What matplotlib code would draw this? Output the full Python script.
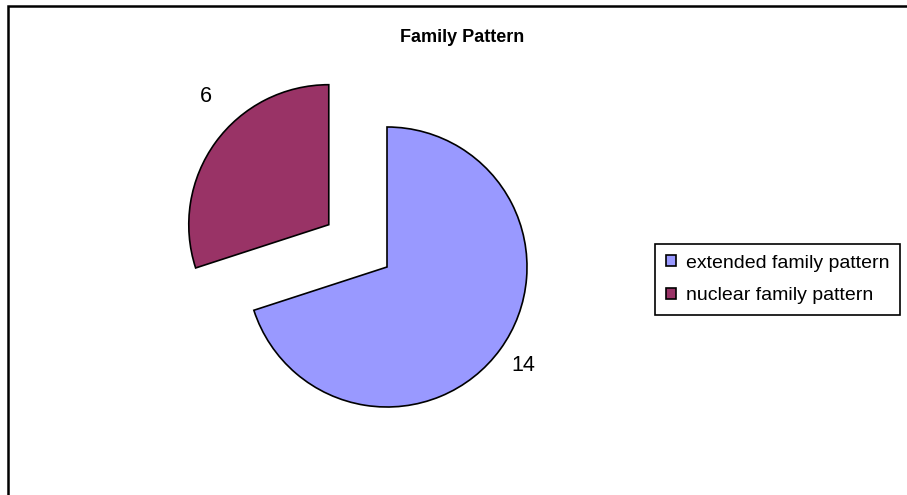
import matplotlib
matplotlib.use("Agg")
import matplotlib.pyplot as plt
from matplotlib.patches import Rectangle

labels = ["extended family pattern", "nuclear family pattern"]
counts = [14, 6]
colors = ["#9999FF", "#993366"]

plt.rcParams["font.family"] = ["Liberation Sans", "DejaVu Sans"]

fig = plt.figure(figsize=(9.07, 4.95), dpi=100)
ax = fig.add_axes([0, 0, 1, 1])

wedges, texts = ax.pie(counts, labels=[str(c) for c in counts], colors=colors,
                       startangle=90, counterclock=False, explode=[0, 0.514],
                       labeldistance=1.2,
                       wedgeprops=dict(edgecolor="black", linewidth=1.2),
                       textprops=dict(fontsize=15.5, ha="center", va="center"))
# excel puts the small label further up than the radial spot
texts[1].set_position((-1.293, 1.221))

ax.set_aspect("auto")
ax.set_xlim(-387 / 140, (907 - 387) / 140)
ax.set_ylim(-(495 - 267) / 140, 267 / 140)
ax.axis("off")

fig.text(462 / 907, 1 - 38 / 495, "Family Pattern", ha="center", va="center",
         fontsize=13, fontweight="bold")

leg = fig.legend(wedges, labels, loc="upper left", bbox_to_anchor=(655 / 907, 1 - 244 / 495),
                 fontsize=14, frameon=True, fancybox=False, framealpha=1,
                 handlelength=0.52, handleheight=0.52, handletextpad=0.5,
                 labelspacing=0.8, borderpad=0.55, borderaxespad=0)
leg.get_frame().set_edgecolor("black")
leg.get_frame().set_linewidth(1.2)

fig.patches.append(Rectangle((8 / 907, -0.1), 2, 1 - 6 / 495 + 0.1, transform=fig.transFigure,
                             fill=False, edgecolor="black", linewidth=1.8))

fig.savefig("out.png", dpi=100)
